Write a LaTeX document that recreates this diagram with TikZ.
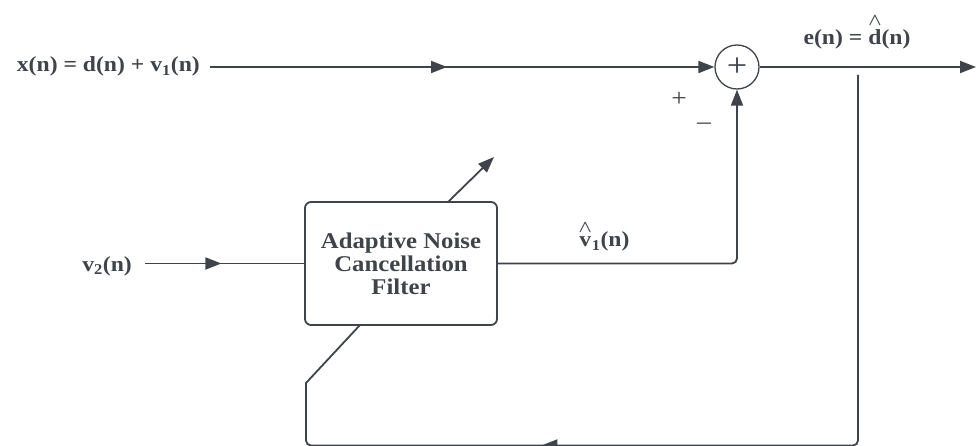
\documentclass[tikz,border=0pt]{standalone}
\usepackage{fontspec}
\setmainfont[FakeStretch=1.1]{Liberation Serif}
\usetikzlibrary{arrows.meta,decorations.markings}
\definecolor{ink}{HTML}{3F434A}
\newcommand\hatted[1]{\leavevmode\vbox{\offinterlineskip\halign{\hfil##\hfil\cr{\fontsize{19}{19}\selectfont\boldmath$\wedge$}\cr\noalign{\kern4.5pt}#1\cr}}}
\tikzset{
  wire/.style={draw=ink, line width=1.8pt},
  tipend/.style={-{Triangle[length=16pt,width=12pt]}},
  midarrow/.style={postaction={decorate}, decoration={markings,
      mark=at position #1 with {\arrow{Triangle[length=16pt,width=12pt]}}}},
  lab/.style={text=ink, font=\fontsize{21.5}{23}\selectfont\bfseries, inner sep=0pt},
  sign/.style={text=ink, font=\fontsize{25}{25}\selectfont, inner sep=0pt},
  sumnode/.style={circle, draw=ink, line width=1.3pt, minimum size=44pt, inner sep=0pt,
      text=ink, font=\fontsize{33}{33}\selectfont},
  filterbox/.style={draw=ink, line width=1.8pt, rounded corners=6pt, minimum width=192pt,
      minimum height=123pt, align=center, text=ink,
      font=\fontsize{22.5}{23}\selectfont\bfseries}
}
\begin{document}
\begin{tikzpicture}[x=1pt,y=-1pt]
\useasboundingbox (0,0) rectangle (976,446);
% nodes
\node[sumnode] (sum) at (737,67) {+};
\node[filterbox] (filt) at (401,263.5) {Adaptive Noise\\Cancellation\\Filter};
\node[lab, anchor=base east] (xin) at (200,72) {x(n) = d(n) + v\textsubscript{1}(n)};
\node[lab, anchor=base east] (v2) at (132,271) {v\textsubscript{2}(n)};
\node[lab, anchor=base] (elab) at (857,45) {e(n) = \hatted{d}(n)};
\node[lab, anchor=base] (v1lab) at (604,247) {\hatted{v}\textsubscript{1}(n)};
\node[sign] (plus) at (679,99) {+};
\node[sign] (minus) at (704,126) {\textendash};
% free ends
\coordinate (xs) at (210,67);
\coordinate (out) at (976,67);
\coordinate (v2s) at (145,263.5);
\coordinate (tap) at (858,75);
\coordinate (br) at (858,445.5);
\coordinate (bl) at (306,445.5);
\coordinate (kink) at (306,383);
\coordinate (under) at (360,325);
\coordinate (a1) at (448,202);
\coordinate (a2) at (494,157);
% connectors
\draw[wire, tipend, midarrow=0.47] (xs) -- (sum.west);
\draw[wire, tipend] (sum.east) -- (out);
\draw[wire, midarrow=0.48] (v2s) -- (filt.west);
\draw[wire, tipend, rounded corners=5pt] (filt.east) -| (sum.south);
\draw[wire, midarrow=685pt] (tap) [rounded corners=5pt] -- (br) -- (bl) [sharp corners] -- (kink) -- (under);
\draw[wire, tipend] (a1) -- (a2);
\end{tikzpicture}
\end{document}
